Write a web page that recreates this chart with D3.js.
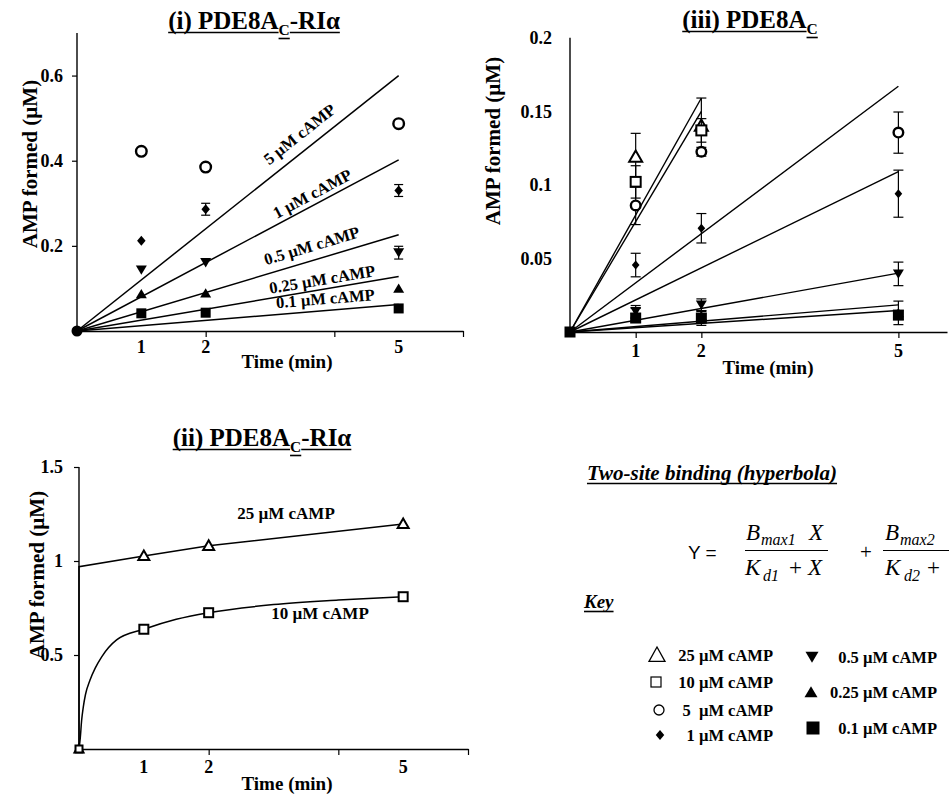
<!DOCTYPE html>
<html><head><meta charset="utf-8">
<script src="https://cdn.jsdelivr.net/npm/d3@7"></script>
<style>
body{margin:0;background:#fff}
svg{display:block}
text{font-family:"Liberation Serif","Times New Roman",serif;font-weight:bold;fill:#000}
</style>
</head><body>
<svg id="c" width="949" height="796"></svg>
<script>
// ---------------- DATA ----------------
const times = [1, 2, 5];
const xTickLabels = ["1", "2", "5"];

// Panel (i) PDE8AC-RIα
const p1Series  = ["5 µM cAMP", "1 µM cAMP", "0.5 µM cAMP", "0.25 µM cAMP", "0.1 µM cAMP"];
const p1Symbols = ["circleOpen", "diamond", "triDown", "triUp", "square"];
const p1Values  = [[0.422, 0.385, 0.487], [0.212, 0.286, 0.330], [0.1435, 0.161, 0.184], [0.087, 0.089, 0.100], [0.0415, 0.043, 0.053]];
const p1Errors  = [[0, 0, 0.008], [0, 0.014, 0.014], [0, 0, 0.015], [0, 0, 0], [0, 0, 0]];
const p1FitEnd  = [0.600, 0.402, 0.226, 0.128, 0.062];   // fitted line value at t = 5 min
const p1YTicks  = [0.2, 0.4, 0.6];
const p1YTickLabels = ["0.2", "0.4", "0.6"];

// Panel (iii) PDE8AC
const p3Series  = ["25 µM cAMP", "10 µM cAMP", "5 µM cAMP", "1 µM cAMP", "0.5 µM cAMP", "0.25 µM cAMP", "0.1 µM cAMP"];
const p3Symbols = ["triUpOpen", "squareOpen", "circleOpen", "diamond", "triDown", "triUp", "square"];
const p3Values  = [[0.119, 0.140, null], [0.102, 0.137, null], [0.086, 0.1225, 0.1355], [0.0455, 0.0705, 0.094], [0.014, 0.0185, 0.0395], [0.012, 0.011, 0.013], [0.0095, 0.0095, 0.0115]];
const p3Errors  = [[0.016, 0.019, null], [0.011, 0.008, null], [0.013, 0.003, 0.014], [0.008, 0.010, 0.016], [0.004, 0.004, 0.008], [0.004, 0.003, 0.008], [0.003, 0.005, 0.003]];
const p3FitEndTime  = [2, 2, 5, 5, 5, 5, 5];
const p3FitEndValue = [0.159, 0.150, 0.167, 0.109, 0.040, 0.0184, 0.0146];
const p3YTicks  = [0.05, 0.1, 0.15, 0.2];
const p3YTickLabels = ["0.05", "0.1", "0.15", "0.2"];

// Panel (ii) PDE8AC-RIα (high cAMP)
const p2Series  = ["25 µM cAMP", "10 µM cAMP"];
const p2Symbols = ["triUpOpen", "squareOpen"];
const p2Values  = [[1.027, 1.081, 1.197], [0.637, 0.725, 0.810]];
// fitted two-site curves
const p2Curve25 = [[0, 0], [0, 0.97], [1, 1.027], [2, 1.081], [5, 1.197]];
const p2Curve10 = [[0, 0], [0.02, 0.06], [0.04, 0.15], [0.066, 0.223], [0.1, 0.29], [0.17, 0.367], [0.25, 0.43], [0.35, 0.49], [0.58, 0.58], [1, 0.637], [1.5, 0.69], [2, 0.725], [3, 0.768], [4, 0.792], [5, 0.810]];
const p2YTicks  = [0.5, 1, 1.5];
const p2YTickLabels = ["0.5", "1", "1.5"];

// Key
const keyLeft  = [["triUpOpen", "25 µM cAMP"], ["squareOpen", "10 µM cAMP"], ["circleOpen", "5  µM cAMP"], ["diamond", "1 µM cAMP"]];
const keyRight = [["triDown", "0.5 µM cAMP"], ["triUp", "0.25 µM cAMP"], ["square", "0.1 µM cAMP"]];

// ---------------- HELPERS ----------------
const svg = d3.select("#c");

function marker(g, type, cx, cy, s) {
  const t = g.append("g").attr("transform", `translate(${cx},${cy})`);
  const h = s / 2;
  if (type === "circleOpen") {
    t.append("circle").attr("r", h - 1.2).attr("fill", "#fff").attr("stroke", "#000").attr("stroke-width", 2.4);
  } else if (type === "squareOpen") {
    t.append("rect").attr("x", -h + 1).attr("y", -h + 1).attr("width", s - 2).attr("height", s - 2).attr("fill", "#fff").attr("stroke", "#000").attr("stroke-width", 2);
  } else if (type === "triUpOpen") {
    t.append("path").attr("d", `M0,${-h}L${h},${h * 0.75}L${-h},${h * 0.75}Z`).attr("fill", "#fff").attr("stroke", "#000").attr("stroke-width", 2).attr("stroke-linejoin", "miter");
  } else if (type === "diamond") {
    t.append("path").attr("d", `M0,${-h}L${h * 0.85},0L0,${h}L${-h * 0.85},0Z`).attr("fill", "#000");
  } else if (type === "triDown") {
    t.append("path").attr("d", `M0,${h * 0.9}L${h},${-h * 0.8}L${-h},${-h * 0.8}Z`).attr("fill", "#000");
  } else if (type === "triUp") {
    t.append("path").attr("d", `M0,${-h * 0.9}L${h},${h * 0.8}L${-h},${h * 0.8}Z`).attr("fill", "#000");
  } else if (type === "square") {
    t.append("rect").attr("x", -h).attr("y", -h).attr("width", s).attr("height", s).attr("fill", "#000");
  } else if (type === "dot") {
    t.append("circle").attr("r", h).attr("fill", "#000");
  }
}

function keyMarker(g, type, cx, cy, s) {
  const t = g.append("g").attr("transform", `translate(${cx},${cy})`);
  const h = s / 2;
  if (type === "circleOpen") t.append("circle").attr("r", h - 1).attr("fill", "none").attr("stroke", "#000").attr("stroke-width", 1.3);
  else if (type === "squareOpen") t.append("rect").attr("x", -h + 1).attr("y", -h + 1).attr("width", s - 2).attr("height", s - 2).attr("fill", "none").attr("stroke", "#000").attr("stroke-width", 1.2);
  else if (type === "triUpOpen") t.append("path").attr("d", `M0,${-h}L${h},${h * 0.8}L${-h},${h * 0.8}Z`).attr("fill", "none").attr("stroke", "#000").attr("stroke-width", 1.3);
  else marker(g, type, cx, cy, s);
}

function errBar(g, x, y0, y1, cap) {
  g.append("line").attr("x1", x).attr("x2", x).attr("y1", y0).attr("y2", y1).attr("stroke", "#000").attr("stroke-width", 1.2);
  [y0, y1].forEach(yy => g.append("line").attr("x1", x - cap).attr("x2", x + cap).attr("y1", yy).attr("y2", yy).attr("stroke", "#000").attr("stroke-width", 1.2));
}

// sequential text pieces (for subscripts / underlines)
function seqText(g, parts, x, y, anchor, ul) {
  const grp = g.append("g");
  let cx = 0; const items = [];
  parts.forEach(p => {
    const t = grp.append("text").attr("x", cx).attr("y", p.dy || 0).attr("font-size", p.size).text(p.text);
    if (p.italic) t.style("font-style", "italic");
    const w = t.node().getComputedTextLength();
    items.push({ x: cx, w, p });
    cx += w;
  });
  const x0 = anchor === "middle" ? x - cx / 2 : x;
  grp.attr("transform", `translate(${x0},${y})`);
  if (ul) items.forEach(it => {
    const yy = (it.p.dy || 0) + ul;
    grp.append("line").attr("x1", it.x).attr("x2", it.x + it.w).attr("y1", yy).attr("y2", yy).attr("stroke", "#000").attr("stroke-width", 1.6);
  });
  return grp;
}

function titleParts(pre, post, size) {
  return [{ text: pre, size }, { text: "C", size: size * 0.62, dy: 6 }, { text: post, size }];
}

function axes(g, x, y, xTickVals, yTicks, yLabels, opt) {
  const ya = d3.axisLeft(y).tickValues(yTicks).tickSize(opt.yTick).tickSizeOuter(0).tickPadding(opt.yPad)
    .tickFormat((d, i) => yLabels[i]);
  const yg = g.append("g").attr("transform", `translate(${x.range()[0]},0)`).call(ya);
  yg.select(".domain").attr("stroke-width", 1.4).attr("d", `M0,${y.range()[0]}V${y.range()[1]}`);
  yg.selectAll(".tick line").attr("stroke-width", 1.2);
  yg.selectAll(".tick text").attr("font-size", opt.tickSize).style("font-family", '"Liberation Serif",serif').style("font-weight", "bold");
  const xa = d3.axisBottom(x).tickValues(xTickVals).tickSize(6).tickSizeOuter(0).tickFormat("");
  const xg = g.append("g").attr("transform", `translate(0,${y.range()[0]})`).call(xa);
  xg.select(".domain").attr("stroke-width", 1.4);
  xg.selectAll(".tick line").attr("stroke-width", 1.2);
  times.forEach((t, i) => g.append("text").attr("x", x(t)).attr("y", y.range()[0] + opt.xLabOff)
    .attr("text-anchor", "middle").attr("font-size", opt.tickSize).text(xTickLabels[i]));
  g.append("text").attr("x", opt.xTitle[0]).attr("y", opt.xTitle[1]).attr("text-anchor", "middle")
    .attr("font-size", 19).text("Time (min)");
  g.append("text").attr("transform", `translate(${opt.yTitle[0]},${opt.yTitle[1]}) rotate(-90)`)
    .attr("text-anchor", "middle").attr("dominant-baseline", "central").attr("font-size", 21).text("AMP formed (µM)");
}

// ---------------- PANEL (i) ----------------
{
  const g = svg.append("g");
  const x = d3.scaleLinear().domain([0, 6]).range([77, 463]);
  const y = d3.scaleLinear().domain([0, 0.7]).range([331, 33]);
  axes(g, x, y, [2, 4, 6], p1YTicks, p1YTickLabels, { yTick: 5, yPad: 9, tickSize: 18, xLabOff: 22, xTitle: [287, 368], yTitle: [30, 164] });
  seqText(g, titleParts("(i) PDE8A", "-RIα", 25), 254, 29, "middle", 3.5);
  const labOff = [20, 12, 15, 10, 12];
  const labT = [3.46, 3.66, 3.65, 3.81, 3.86];
  p1Series.forEach((s, i) => {
    g.append("line").attr("x1", x(0)).attr("y1", y(0)).attr("x2", x(5)).attr("y2", y(p1FitEnd[i])).attr("stroke", "#000").attr("stroke-width", 1.5);
    const ang = Math.atan2(y(p1FitEnd[i]) - y(0), x(5) - x(0)) * 180 / Math.PI;
    const lt = labT[i];
    const lx = x(lt), ly = y(p1FitEnd[i] * lt / 5) - labOff[i];
    g.append("text").attr("transform", `translate(${lx},${ly}) rotate(${ang})`).attr("text-anchor", "middle")
      .attr("dominant-baseline", "central").attr("font-size", 16.5).text(s);
  });
  p1Series.forEach((s, i) => {
    times.forEach((t, j) => {
      const v = p1Values[i][j], e = p1Errors[i][j];
      if (e > 0) errBar(g, x(t), y(v - e), y(v + e), 4.5);
      const sz = { circleOpen: 13, diamond: 10, triDown: 11, triUp: 11, square: 10 }[p1Symbols[i]];
      marker(g, p1Symbols[i], x(t), y(v), sz);
    });
  });
  marker(g, "dot", x(0), y(0), 11);
}

// ---------------- PANEL (iii) ----------------
{
  const g = svg.append("g");
  const x = d3.scaleLinear().domain([0, 5.74]).range([570, 947]);
  const y = d3.scaleLinear().domain([0, 0.2]).range([332, 37.7]);
  axes(g, x, y, [1, 2, 5], p3YTicks, p3YTickLabels, { yTick: 0, yPad: 18, tickSize: 18, xLabOff: 25, xTitle: [768, 374], yTitle: [493, 141] });
  seqText(g, titleParts("(iii) PDE8A", "", 25), 750, 28, "middle", 3.5);
  p3Series.forEach((s, i) => {
    g.append("line").attr("x1", x(0)).attr("y1", y(0)).attr("x2", x(p3FitEndTime[i])).attr("y2", y(p3FitEndValue[i])).attr("stroke", "#000").attr("stroke-width", 1.4);
  });
  p3Series.forEach((s, i) => {
    times.forEach((t, j) => {
      const v = p3Values[i][j], e = p3Errors[i][j];
      if (v === null) return;
      if (e > 0) errBar(g, x(t), y(v - e), y(v + e), 5);
      const sz = { triUpOpen: 13, squareOpen: 12, circleOpen: 12, diamond: 9, triDown: 11, triUp: 11, square: 11 }[p3Symbols[i]];
      marker(g, p3Symbols[i], x(t), y(v), sz);
    });
  });
  marker(g, "square", x(0), y(0), 11);
}

// ---------------- PANEL (ii) ----------------
{
  const g = svg.append("g");
  const x = d3.scaleLinear().domain([0, 6]).range([79, 468]);
  const y = d3.scaleLinear().domain([0, 1.5]).range([749, 467]);
  axes(g, x, y, [2, 4, 6], p2YTicks, p2YTickLabels, { yTick: 5, yPad: 11, tickSize: 18, xLabOff: 24, xTitle: [287, 790], yTitle: [37, 575] });
  seqText(g, titleParts("(ii) PDE8A", "-RIα", 25), 262, 446, "middle", 3.5);
  const line = d3.line().x(d => x(d[0])).y(d => y(d[1]));
  g.append("path").attr("d", line.curve(d3.curveLinear)(p2Curve25)).attr("fill", "none").attr("stroke", "#000").attr("stroke-width", 1.5);
  g.append("path").attr("d", line.curve(d3.curveMonotoneX)(p2Curve10)).attr("fill", "none").attr("stroke", "#000").attr("stroke-width", 1.5);
  g.append("text").attr("x", 286).attr("y", 519).attr("text-anchor", "middle").attr("font-size", 17).text(p2Series[0]);
  g.append("text").attr("x", 320).attr("y", 619).attr("text-anchor", "middle").attr("font-size", 17).text(p2Series[1]);
  p2Series.forEach((s, i) => {
    times.forEach((t, j) => marker(g, p2Symbols[i], x(t), y(p2Values[i][j]), 11));
    marker(g, p2Symbols[i], x(0), y(0), 9);
  });
}

// ---------------- FORMULA ----------------
{
  const g = svg.append("g");
  seqText(g, [{ text: "Two-site binding (hyperbola)", size: 21, italic: true }], 712, 480, "middle", 3.5);
  const mathFont = '"Liberation Serif",serif';
  const f = (txt, xx, yy, size, italic, fam) => {
    const t = g.append("text").attr("x", xx).attr("y", yy).attr("font-size", size).text(txt)
      .style("font-family", fam || mathFont).style("font-weight", "normal");
    if (italic) t.style("font-style", "italic");
    return t;
  };
  f("Y =", 688, 559, 19, false, '"Liberation Sans",Arial,sans-serif');
  // fraction 1
  f("B", 746, 540, 23, true); f("max1", 761, 545, 16, true); f("X", 809, 540, 23, true);
  g.append("line").attr("x1", 745).attr("x2", 828).attr("y1", 550.5).attr("y2", 550.5).attr("stroke", "#000").attr("stroke-width", 1.2);
  f("K", 745, 575, 23, true); f("d1", 763, 581, 16, true); f("+", 789, 575, 23, false); f("X", 808, 575, 23, true);
  f("+", 860, 559, 21, false);
  // fraction 2 (cut at right edge)
  f("B", 885, 540, 23, true); f("max2", 900, 545, 16, true);
  g.append("line").attr("x1", 883).attr("x2", 960).attr("y1", 550.5).attr("y2", 550.5).attr("stroke", "#000").attr("stroke-width", 1.2);
  f("K", 885, 575, 23, true); f("d2", 904, 581, 16, true); f("+", 927, 575, 23, false);
}

// ---------------- KEY ----------------
{
  const g = svg.append("g");
  seqText(g, [{ text: "Key", size: 19, italic: true }], 584, 608, "start", 3.5);
  const leftY = [655, 682, 710, 735];
  const rightY = [657, 692, 728];
  const leftSym = [657, 656, 659, 660];
  const rightSym = [812, 811, 813];
  keyLeft.forEach((k, i) => {
    keyMarker(g, k[0], leftSym[i], leftY[i], { triUpOpen: 16, squareOpen: 12, circleOpen: 12, diamond: 10 }[k[0]]);
    g.append("text").attr("x", 773).attr("y", leftY[i] + 5.5).attr("text-anchor", "end").attr("font-size", 16.5).style("white-space", "pre").text(k[1]);
  });
  keyRight.forEach((k, i) => {
    keyMarker(g, k[0], rightSym[i], rightY[i], 13);
    g.append("text").attr("x", 937).attr("y", rightY[i] + 5.5).attr("text-anchor", "end").attr("font-size", 16.5).text(k[1]);
  });
}
</script>
</body></html>
